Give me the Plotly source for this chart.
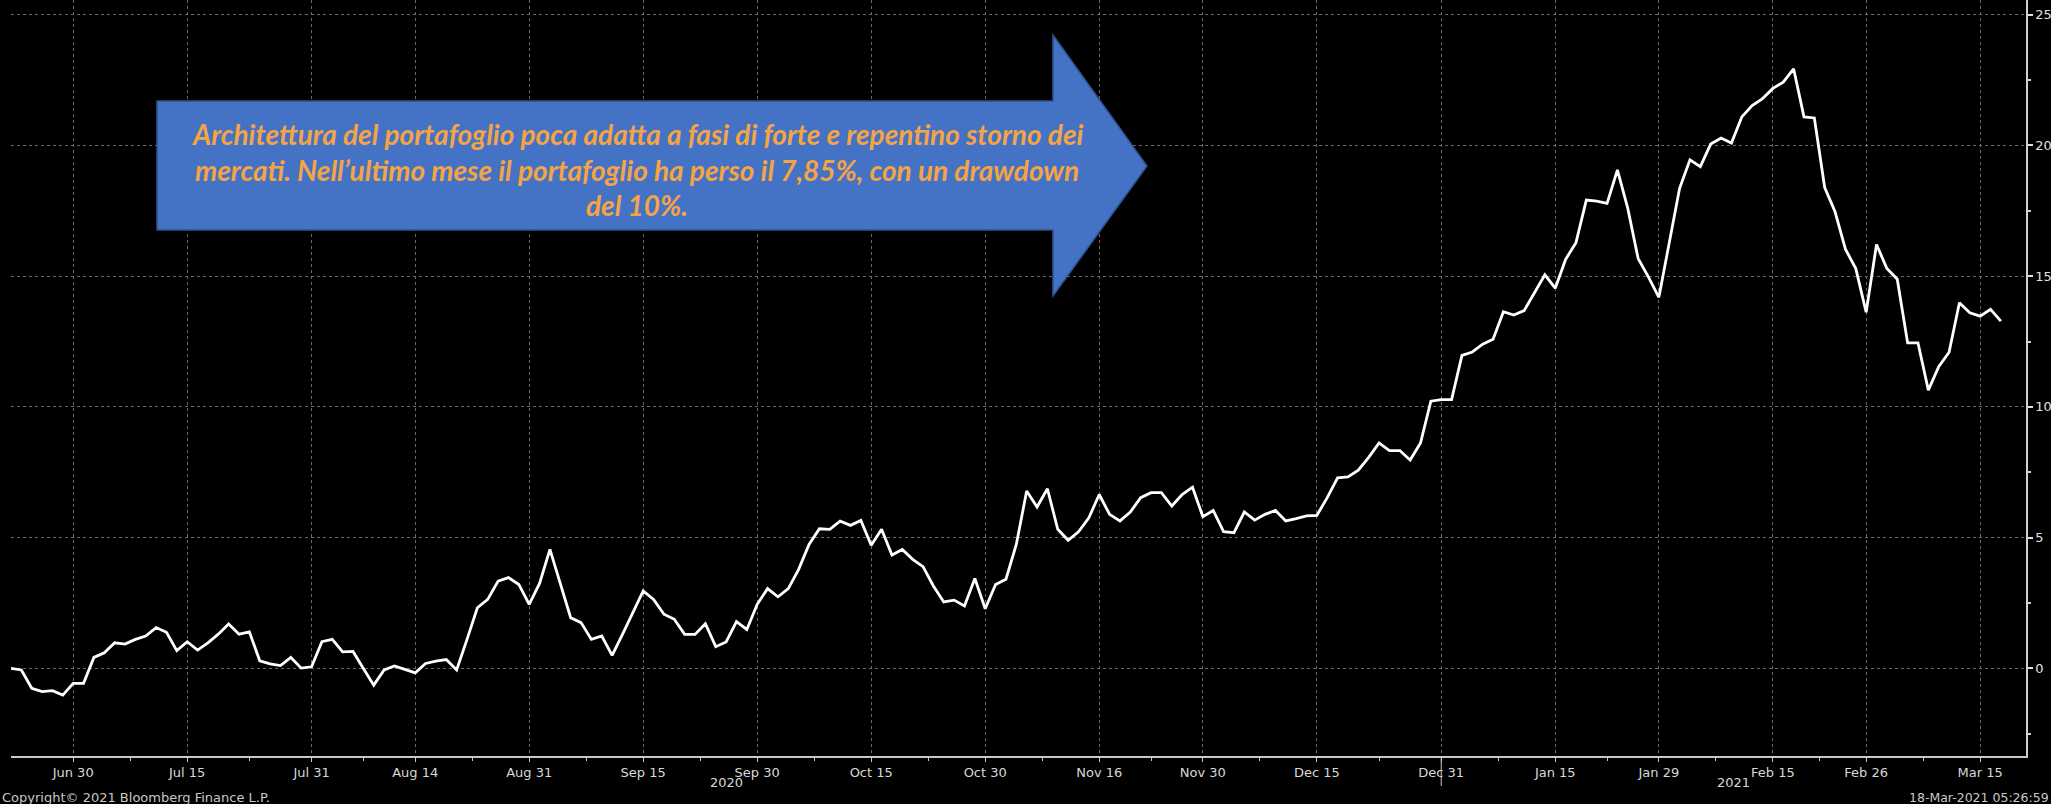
import pandas as pd
import plotly.graph_objects as go

# ---------------- data ----------------
dates = pd.bdate_range("2020-06-22", "2021-03-17")  # trading days on the x axis

values = [
    0.00, -0.06, -0.76, -0.89, -0.85, -1.02, -0.57, -0.57, 0.42, 0.60,
    0.98, 0.93, 1.11, 1.24, 1.56, 1.38, 0.68, 1.02, 0.70, 0.98,
    1.31, 1.70, 1.31, 1.40, 0.29, 0.17, 0.11, 0.42, 0.01, 0.06,
    1.02, 1.11, 0.63, 0.65, 0.00, -0.64, -0.06, 0.09, -0.04, -0.17,
    0.19, 0.28, 0.34, -0.06, 1.11, 2.32, 2.64, 3.34, 3.47, 3.21,
    2.45, 3.25, 4.55, 3.21, 1.94, 1.75, 1.11, 1.24, 0.50, 1.30,
    2.13, 2.96, 2.64, 2.07, 1.88, 1.30, 1.30, 1.71, 0.83, 1.01,
    1.79, 1.49, 2.45, 3.05, 2.74, 3.05, 3.79, 4.74, 5.34, 5.32,
    5.63, 5.47, 5.66, 4.71, 5.32, 4.34, 4.55, 4.17, 3.89, 3.15,
    2.54, 2.61, 2.39, 3.44, 2.28, 3.21, 3.41, 4.74, 6.78, 6.17,
    6.87, 5.32, 4.90, 5.22, 5.76, 6.65, 5.89, 5.64, 5.98, 6.53,
    6.72, 6.72, 6.21, 6.65, 6.93, 5.80, 6.04, 5.23, 5.19, 5.98,
    5.67, 5.89, 6.04, 5.64, 5.73, 5.83, 5.85, 6.53, 7.29, 7.32,
    7.58, 8.07, 8.62, 8.33, 8.33, 7.97, 8.62, 10.22, 10.28, 10.28,
    11.97, 12.10, 12.40, 12.59, 13.64, 13.51, 13.68, 14.38, 15.05, 14.54,
    15.64, 16.28, 17.91, 17.87, 17.78, 19.06, 17.59, 15.67, 14.96, 14.19,
    16.31, 18.36, 19.45, 19.19, 20.05, 20.28, 20.09, 21.09, 21.52, 21.79,
    22.18, 22.42, 22.93, 21.09, 21.05, 18.39, 17.46, 16.03, 15.29, 13.62,
    16.21, 15.29, 14.88, 12.45, 12.45, 10.64, 11.54, 12.09, 13.98, 13.60,
    13.47, 13.73, 13.28,
]

tick_dates = ["2020-06-30", "2020-07-15", "2020-07-31", "2020-08-14", "2020-08-31",
              "2020-09-15", "2020-09-30", "2020-10-15", "2020-10-30", "2020-11-16",
              "2020-11-30", "2020-12-15", "2020-12-31", "2021-01-15", "2021-01-29",
              "2021-02-15", "2021-02-26", "2021-03-15"]
tick_labels = ["Jun 30", "Jul 15", "Jul 31", "Aug 14", "Aug 31", "Sep 15", "Sep 30",
               "Oct 15", "Oct 30", "Nov 16", "Nov 30", "Dec 15", "Dec 31", "Jan 15",
               "Jan 29", "Feb 15", "Feb 26", "Mar 15"]
y_ticks = [0, 5, 10, 15, 20, 25]
y_minor = [-2.5, 2.5, 7.5, 12.5, 17.5, 22.5]

arrow_lines = [
    "Architettura del portafoglio poca adatta a fasi di forte e repentino storno dei",
    "mercati. Nell\u2019ultimo mese il portafoglio ha perso il 7,85%, con un drawdown",
    "del 10%.",
]
copyright_text = "Copyright\u00a9 2021 Bloomberg Finance L.P."
stamp_text = "18-Mar-2021 05:26:59"

# ---------------- figure ----------------
W, H = 2051, 804
ML, MR, MT, MB = 11, 25, 0, 48
PW, PH = W - ML - MR, H - MT - MB

def px(x):
    return (x - ML) / PW

def py(y):
    return (H - MB - y) / PH

x_idx = list(range(len(dates)))
tickvals = [dates.get_loc(pd.Timestamp(d)) for d in tick_dates]
minor_vals = [(a + b) / 2 for a, b in zip(tickvals[:-1], tickvals[1:])]

fig = go.Figure()
fig.add_trace(go.Scatter(
    x=x_idx, y=values, mode="lines",
    line=dict(color="white", width=2.8),
    hoverinfo="skip", showlegend=False,
))

axis_font = dict(family="DejaVu Sans, sans-serif", size=13, color="#d8d8d8")

fig.update_layout(
    width=W, height=H,
    margin=dict(l=ML, r=MR, t=MT, b=MB, autoexpand=False),
    paper_bgcolor="black", plot_bgcolor="black",
    xaxis=dict(
        range=[0, PW / 10.364],
        tickmode="array", tickvals=tickvals, ticktext=tick_labels,
        ticks="outside", ticklen=4, tickwidth=1, tickcolor="#c8c8c8",
        tickfont=axis_font,
        showgrid=True, gridcolor="#6a6a6a", griddash="dot", gridwidth=1,
        showline=True, linecolor="#c8c8c8", linewidth=1.5,
        zeroline=False,
        minor=dict(tickmode="array", tickvals=minor_vals, ticks="outside",
                   ticklen=3, tickcolor="#c8c8c8", showgrid=False),
    ),
    yaxis=dict(
        side="right",
        range=[-3.35, 25.56],
        tickmode="array", tickvals=y_ticks,
        ticks="outside", ticklen=5, tickwidth=2, tickcolor="#e0e0e0",
        tickfont=dict(family="DejaVu Sans, sans-serif", size=13, color="#e0e0e0"),
        showgrid=True, gridcolor="#6a6a6a", griddash="dot", gridwidth=1,
        showline=True, linecolor="#d0d0d0", linewidth=1.5,
        zeroline=False,
        minor=dict(tickmode="array", tickvals=y_minor, ticks="outside",
                   ticklen=3, tickcolor="#d0d0d0", showgrid=False),
    ),
)

# year separator tick under Dec 31
dec31 = dates.get_loc(pd.Timestamp("2020-12-31"))
fig.add_shape(type="line", xref="x", yref="paper", x0=dec31, x1=dec31,
              y0=0, y1=py(786), line=dict(color="#c8c8c8", width=1))

# year labels
fig.add_annotation(text="2020", xref="paper", yref="paper", x=px(726), y=py(782),
                   showarrow=False, font=axis_font, xanchor="center", yanchor="middle")
fig.add_annotation(text="2021", xref="paper", yref="paper", x=px(1733), y=py(782),
                   showarrow=False, font=axis_font, xanchor="center", yanchor="middle")

# footer texts
fig.add_annotation(text=copyright_text, xref="paper", yref="paper", x=px(0), y=py(797),
                   showarrow=False,
                   font=dict(family="DejaVu Sans, sans-serif", size=13, color="#c8c8c8"),
                   xanchor="left", yanchor="middle")
fig.add_annotation(text=stamp_text, xref="paper", yref="paper", x=px(2051), y=py(797),
                   showarrow=False,
                   font=dict(family="DejaVu Sans, sans-serif", size=12.5, color="#c8c8c8"),
                   xanchor="right", yanchor="middle")

# blue arrow call-out
arrow_pts = [(157, 101), (1053, 101), (1053, 35), (1147, 166), (1053, 296), (1053, 230), (157, 230)]
path = "M " + " L ".join(f"{px(a):.5f},{py(b):.5f}" for a, b in arrow_pts) + " Z"
fig.add_shape(type="path", xref="paper", yref="paper", path=path,
              fillcolor="#4472C4", line=dict(color="#2F528F", width=1.5), layer="above")

text_font = dict(family="Lato, DejaVu Sans Condensed, sans-serif",
                 size=28, color="#F4A445")
for line, yc in zip(arrow_lines, [134, 170, 205]):
    fig.add_annotation(text=f"<b><i>{line}</i></b>", xref="paper", yref="paper",
                       x=px(637), y=py(yc), showarrow=False, font=text_font,
                       xanchor="center", yanchor="middle")

fig.write_html("out.html",
               config={"displayModeBar": False},
               post_script="document.body.style.margin='0';document.body.style.overflow='hidden';")
